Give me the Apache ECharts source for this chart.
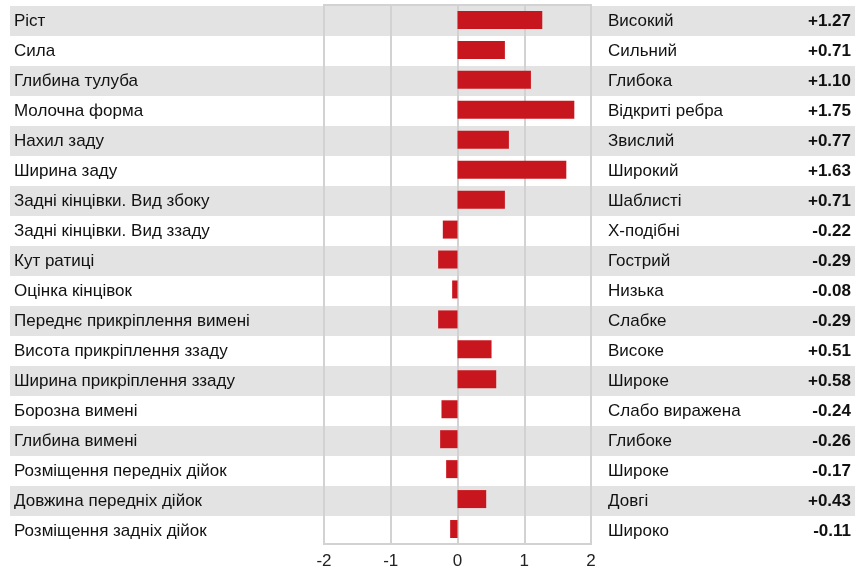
<!DOCTYPE html>
<html><head><meta charset="utf-8">
<script src="https://cdn.jsdelivr.net/npm/echarts@6/dist/echarts.min.js"></script>
<style>html,body{margin:0;padding:0;background:#fff}#c{width:855px;height:567px}</style>
</head><body><div id="c"></div>
<script>
const traits = ['Ріст','Сила','Глибина тулуба','Молочна форма','Нахил заду','Ширина заду','Задні кінцівки. Вид збоку','Задні кінцівки. Вид ззаду','Кут ратиці','Оцінка кінцівок','Переднє прикріплення вимені','Висота прикріплення ззаду','Ширина прикріплення ззаду','Борозна вимені','Глибина вимені','Розміщення передніх дійок','Довжина передніх дійок','Розміщення задніх дійок'];
const descriptors = ['Високий','Сильний','Глибока','Відкриті ребра','Звислий','Широкий','Шаблисті','Х-подібні','Гострий','Низька','Слабке','Високе','Широке','Слабо виражена','Глибоке','Широке','Довгі','Широко'];
const values = [1.27,0.71,1.10,1.75,0.77,1.63,0.71,-0.22,-0.29,-0.08,-0.29,0.51,0.58,-0.24,-0.26,-0.17,0.43,-0.11];
const valueLabels = values.map(v => (v > 0 ? '+' : '') + v.toFixed(2));

const font = 'Liberation Sans, Arial, sans-serif';
const chart = echarts.init(document.getElementById('c'), null, {renderer:'canvas'});
chart.setOption({
  animation:false,
  grid:[
    {left:10, right:0, top:6, height:540, outerBoundsMode:'none', containLabel:false},
    {left:324, width:267, top:5, height:539, show:true, borderColor:'#d2d2d2', borderWidth:2, backgroundColor:'transparent', z:3, outerBoundsMode:'none', containLabel:false}
  ],
  xAxis:[
    {gridIndex:0, type:'value', show:false},
    {gridIndex:1, type:'value', min:-2, max:2, interval:1,
     axisLine:{show:false}, axisTick:{show:false},
     axisLabel:{color:'#222', fontSize:17, fontFamily:font, margin:9},
     splitLine:{show:true, lineStyle:{color:'#d2d2d2', width:2}}}
  ],
  yAxis:[
    {gridIndex:0, type:'category', inverse:true, data:traits, position:'left',
     axisLine:{show:false}, axisTick:{show:false},
     axisLabel:{inside:true, margin:4, color:'#111', fontSize:17, fontFamily:font},
     splitArea:{show:true, areaStyle:{color:['#e3e3e3','#ffffff']}}},
    {gridIndex:0, type:'category', inverse:true, data:descriptors, position:'left', offset:-598,
     axisLine:{show:false}, axisTick:{show:false},
     axisLabel:{inside:true, margin:0, color:'#111', fontSize:17, fontFamily:font}},
    {gridIndex:0, type:'category', inverse:true, data:valueLabels, position:'right',
     axisLine:{show:false}, axisTick:{show:false},
     axisLabel:{inside:true, margin:4, color:'#111', fontSize:17, fontWeight:'bold', fontFamily:font}},
    {gridIndex:1, type:'category', inverse:true, data:traits, show:false}
  ],
  series:[
    {type:'bar', xAxisIndex:1, yAxisIndex:3, data:values, barWidth:18,
     itemStyle:{color:'#c8161e'}, z:5}
  ]
});
</script></body></html>
